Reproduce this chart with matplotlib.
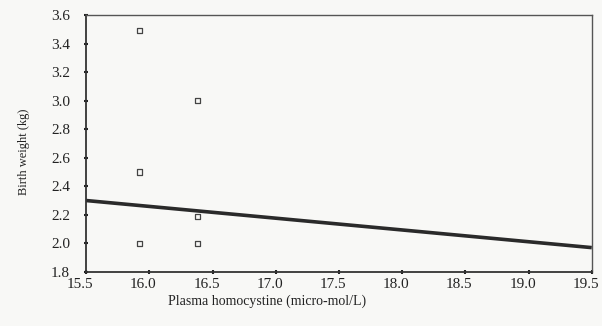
import matplotlib.pyplot as plt
from matplotlib.transforms import ScaledTranslation

# scatter data
homocystine = [15.92, 15.92, 15.92, 16.38, 16.38, 16.38]
birth_weight = [3.49, 2.50, 2.00, 3.00, 2.19, 2.00]

# fitted line ends
fit_x = [15.5, 19.5]
fit_y = [2.30, 1.97]

x_ticks = [15.5, 16.0, 16.5, 17.0, 17.5, 18.0, 18.5, 19.0, 19.5]
y_ticks = [1.8, 2.0, 2.2, 2.4, 2.6, 2.8, 3.0, 3.2, 3.4, 3.6]

plt.rcParams['font.family'] = ['Liberation Serif', 'DejaVu Serif']

fig = plt.figure(figsize=(6.02, 3.26), dpi=100, facecolor='#f8f8f6')
ax = fig.add_axes([0.143, 0.166, 0.84, 0.788])
ax.set_facecolor('#f8f8f6')

ax.plot(fit_x, fit_y, color='#2a2a2a', linewidth=2.6, solid_capstyle='butt')
ax.scatter(homocystine, birth_weight, marker='s', s=14, facecolors='none',
           edgecolors='#444444', linewidths=0.9, zorder=3)

ax.set_xlim(15.5, 19.5)
ax.set_ylim(1.8, 3.6)
ax.set_xticks(x_ticks)
ax.set_yticks(y_ticks)
ax.set_xticklabels(['%.1f' % v for v in x_ticks])
ax.set_yticklabels(['%.1f' % v for v in y_ticks])
ax.tick_params(axis='both', labelsize=11, colors='#222222', length=3, width=1.5,
               direction='inout')
ax.tick_params(axis='y', pad=10)
ax.tick_params(axis='x', pad=3)

# scanned labels sit a little left of their ticks
shift = ScaledTranslation(-6 / 100, 0, fig.dpi_scale_trans)
for lab in ax.get_xticklabels():
    lab.set_transform(lab.get_transform() + shift)

for side in ['left', 'bottom']:
    ax.spines[side].set_color('#333333')
    ax.spines[side].set_linewidth(1.3)
for side in ['top', 'right']:
    ax.spines[side].set_color('#555555')
    ax.spines[side].set_linewidth(1.0)

fig.text(0.443, 0.075, 'Plasma homocystine (micro-mol/L)', ha='center', va='center',
         fontsize=10, color='#222222')
fig.text(0.04, 0.535, 'Birth weight (kg)', ha='center', va='center', rotation=90,
         fontsize=9, color='#222222')

fig.savefig('out.png', dpi=100, facecolor=fig.get_facecolor())
